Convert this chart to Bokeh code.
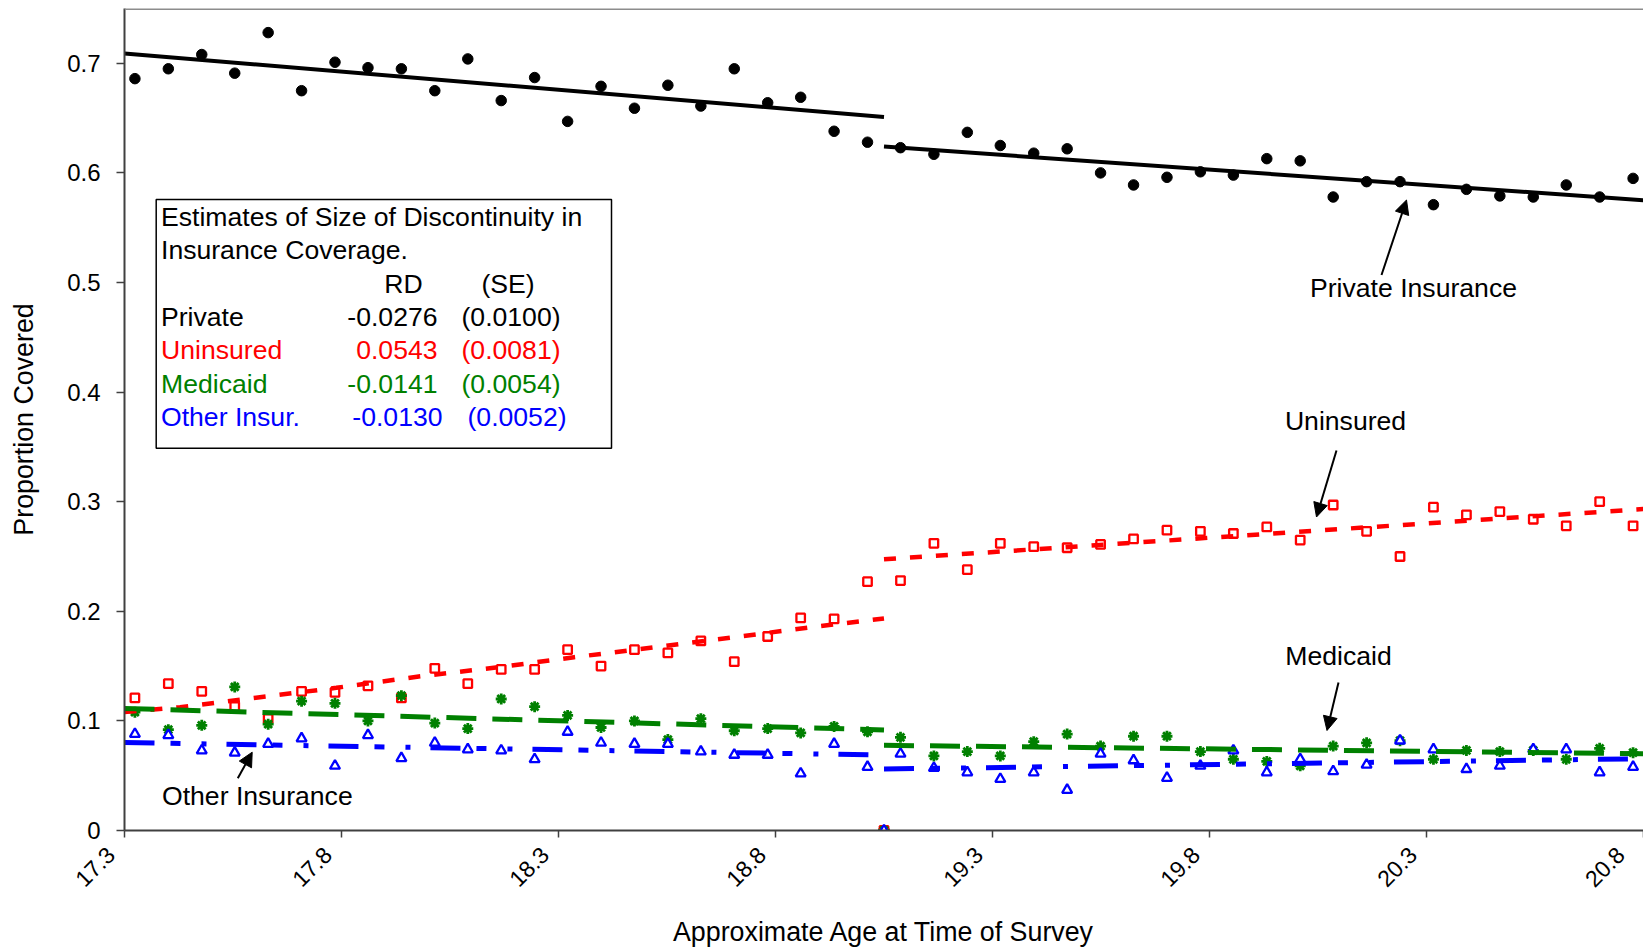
from bokeh.plotting import figure
from bokeh.models import (FixedTicker, CustomJSTickFormatter, Label, BoxAnnotation,
                          Arrow, NormalHead, Span, Range1d)
from bokeh.embed import file_html
from bokeh.resources import INLINE
from math import pi

# ---------------- data ----------------
age = [17.324, 17.401, 17.478, 17.554, 17.631, 17.708, 17.785, 17.861, 17.938, 18.015,
       18.091, 18.168, 18.245, 18.321, 18.398, 18.475, 18.552, 18.628, 18.705, 18.782,
       18.858, 18.935, 19.012,
       19.050,
       19.088, 19.165, 19.242, 19.318, 19.395, 19.472, 19.549, 19.625, 19.702, 19.779,
       19.855, 19.932, 20.009, 20.085, 20.162, 20.239, 20.316, 20.392, 20.469, 20.546,
       20.622, 20.699, 20.776]

private = [0.686, 0.695, 0.708, 0.691, 0.728, 0.675, 0.701, 0.696, 0.695, 0.675,
           0.704, 0.666, 0.687, 0.647, 0.679, 0.659, 0.680, 0.661, 0.695, 0.664,
           0.669, 0.638, 0.628,
           0.0,
           0.623, 0.617, 0.637, 0.625, 0.618, 0.622, 0.600, 0.589, 0.596, 0.601,
           0.598, 0.613, 0.611, 0.578, 0.592, 0.592, 0.571, 0.585, 0.579, 0.578,
           0.589, 0.578, 0.595]

uninsured = [0.121, 0.134, 0.127, 0.113, 0.102, 0.127, 0.126, 0.132, 0.121, 0.148,
             0.134, 0.147, 0.147, 0.165, 0.150, 0.165, 0.162, 0.173, 0.154, 0.177,
             0.194, 0.193, 0.227,
             0.0,
             0.228, 0.262, 0.238, 0.262, 0.259, 0.258, 0.261, 0.266, 0.274, 0.273,
             0.271, 0.277, 0.265, 0.297, 0.273, 0.250, 0.295, 0.288, 0.291, 0.284,
             0.278, 0.300, 0.278]

medicaid = [0.108, 0.092, 0.096, 0.131, 0.097, 0.118, 0.116, 0.100, 0.123, 0.098,
            0.093, 0.120, 0.113, 0.105, 0.094, 0.100, 0.083, 0.102, 0.091, 0.093,
            0.089, 0.095, 0.090,
            0.0,
            0.085, 0.068, 0.072, 0.068, 0.081, 0.088, 0.077, 0.086, 0.086, 0.072,
            0.065, 0.063, 0.059, 0.077, 0.080, 0.082, 0.065, 0.073, 0.072, 0.073,
            0.065, 0.075, 0.071]

other = [0.088, 0.087, 0.073, 0.071, 0.079, 0.084, 0.059, 0.087, 0.066, 0.080,
         0.074, 0.073, 0.065, 0.090, 0.080, 0.079, 0.079, 0.072, 0.069, 0.069,
         0.052, 0.079, 0.058,
         0.0,
         0.070, 0.057, 0.053, 0.047, 0.053, 0.037, 0.070, 0.064, 0.048, 0.059,
         0.073, 0.053, 0.065, 0.054, 0.060, 0.082, 0.074, 0.056, 0.059, 0.074,
         0.074, 0.053, 0.058]

# fitted regression lines (left / right of the cutoff)
fit_age_left = [17.3, 19.05]
fit_age_right = [19.05, 20.8]
private_fit_left = [0.709, 0.651]
private_fit_right = [0.624, 0.575]
uninsured_fit_age_left = [17.3, 17.428, 17.612, 17.788, 17.978, 18.162, 18.336, 18.521,
                          18.705, 18.883, 19.05]
uninsured_fit_left = [0.108, 0.1125, 0.1216, 0.1302, 0.1405, 0.149, 0.1581, 0.1672,
                      0.1764, 0.1855, 0.1935]
uninsured_fit_right = [0.2475, 0.2933]
medicaid_fit_left = [0.1113, 0.0917]
medicaid_fit_right = [0.0777, 0.0701]
other_fit_left = [0.0802, 0.0688]
other_fit_right = [0.0561, 0.0655]

x_ticks = [17.3, 17.8, 18.3, 18.8, 19.3, 19.8, 20.3, 20.8]
y_ticks = [0, 0.1, 0.2, 0.3, 0.4, 0.5, 0.6, 0.7]

table_title = ["Estimates of Size of Discontinuity in", "Insurance Coverage."]
table_head = ["RD", "(SE)"]
table_rows = ["Private", "Uninsured", "Medicaid", "Other Insur."]
table_rd = ["-0.0276", "0.0543", "-0.0141", "-0.0130"]
table_se = ["(0.0100)", "(0.0081)", "(0.0054)", "(0.0052)"]

RED = "#FF0000"
GREEN = "#008000"
BLUE = "#0000FF"
table_colors = ["black", RED, GREEN, BLUE]
FONT = "Liberation Sans"
TXT = "26.6px"

# ---------------- figure ----------------
X0, X1, Y0, Y1 = 17.3, 20.8, 0.0, 0.75
W, H = 1643, 951
FL, FT, FB = 124, 8, 830          # frame left / top / bottom in page pixels

p = figure(width=W, height=H, x_range=Range1d(X0, X1), y_range=Range1d(Y0, Y1),
           output_backend="svg", toolbar_location=None, title=None,
           min_border_left=FL, min_border_right=0, min_border_top=FT,
           min_border_bottom=H - FB)
p.outline_line_color = None
p.grid.visible = False
p.background_fill_color = "white"
p.border_fill_color = "white"


def X(px):
    return X0 + (px - FL) * (X1 - X0) / (W - FL)


def Y(py):
    return (FB - py) * (Y1 - Y0) / (FB - FT)


p.add_layout(Span(location=Y1, dimension="width", line_color="#8c8c8c", line_width=3))

# axes
for ax in (p.xaxis[0], p.yaxis[0]):
    ax.axis_line_color = "#404040"
    ax.axis_line_width = 2
    ax.major_tick_line_color = "#404040"
    ax.major_tick_line_width = 1.5
    ax.major_tick_in = 0
    ax.minor_tick_line_color = None
    ax.major_label_text_font = FONT
    ax.major_label_text_color = "black"
    ax.axis_label_text_font = FONT
    ax.axis_label_text_font_size = "26.8px"
    ax.axis_label_text_font_style = "normal"
    ax.axis_label_text_color = "black"

p.xaxis.ticker = FixedTicker(ticks=x_ticks)
p.xaxis.formatter = CustomJSTickFormatter(
    code="return tick.toFixed(1) + '\\u00a0\\u00a0\\u00a0'")
p.xaxis.major_label_orientation = pi / 4
p.xaxis.major_label_text_font_size = "23px"
p.xaxis.major_tick_out = 7
p.xaxis.major_label_standoff = 0
p.xaxis.axis_label = "Approximate Age at Time of Survey"
p.xaxis.axis_label_standoff = 13

p.yaxis.ticker = FixedTicker(ticks=y_ticks)
p.yaxis.formatter = CustomJSTickFormatter(code="return tick == 0 ? '0' : tick.toFixed(1)")
p.yaxis.major_label_text_font_size = "24px"
p.yaxis.major_tick_out = 8
p.yaxis.major_label_standoff = 16
p.yaxis.axis_label = "Proportion Covered"
p.yaxis.axis_label_standoff = 25

# ---------------- markers ----------------
p.scatter(age, private, marker="circle", size=10.5, fill_color="black", line_color="black")
p.scatter(age, uninsured, marker="square", size=8.5, fill_color="white",
          line_color=RED, line_width=2.3)
p.scatter(age, medicaid, marker="asterisk", size=11, line_color=GREEN, line_width=2.8)
p.scatter(age, other, marker="triangle", size=10, fill_color="white",
          line_color=BLUE, line_width=2.3)

# ---------------- fitted lines ----------------
p.line(fit_age_left, private_fit_left, line_color="black", line_width=4)
p.line(fit_age_right, private_fit_right, line_color="black", line_width=4)
p.line(uninsured_fit_age_left, uninsured_fit_left, line_color=RED, line_width=4.5,
       line_dash="12 14")
p.line(fit_age_right, uninsured_fit_right, line_color=RED, line_width=4.5, line_dash="12 14")
p.line(fit_age_left, medicaid_fit_left, line_color=GREEN, line_width=5, line_dash="30 16")
p.line(fit_age_right, medicaid_fit_right, line_color=GREEN, line_width=5, line_dash="30 16")
p.line(fit_age_left, other_fit_left, line_color=BLUE, line_width=5,
       line_dash="30 16 10 21 5 20")
p.line(fit_age_right, other_fit_right, line_color=BLUE, line_width=5,
       line_dash="30 16 10 21 5 20")

# ---------------- estimates box ----------------
p.add_layout(BoxAnnotation(left=X(155.7), right=X(611), top=Y(199), bottom=Y(447.7),
                           fill_color="white", fill_alpha=1.0,
                           line_color="black", line_width=1.5, line_alpha=1.0))


def lab(px, py, text, color="black", align="left", size=TXT):
    p.add_layout(Label(x=X(px), y=Y(py), text=text, text_color=color, text_font=FONT,
                       text_font_size=size, text_align=align,
                       text_baseline="alphabetic"))


lab(160.5, 216.5, table_title[0])
lab(160.5, 249.5, table_title[1])
lab(403, 283, table_head[0], align="center")
lab(507.5, 283, table_head[1], align="center")
row_base = [316.5, 349.8, 383, 416.3]
rd_right = [437, 437, 437, 442]
se_left = [461, 461, 461, 467]
for i in range(4):
    lab(160.5, row_base[i], table_rows[i], table_colors[i])
    lab(rd_right[i], row_base[i], table_rd[i], table_colors[i], align="right")
    lab(se_left[i], row_base[i], table_se[i], table_colors[i])

# ---------------- call-outs ----------------
lab(1413, 287, "Private Insurance", align="center")
lab(1345, 420.5, "Uninsured", align="center")
lab(1338, 655, "Medicaid", align="center")
lab(161.5, 795, "Other Insurance")


def arrow(x0, y0, x1, y1):
    p.add_layout(Arrow(end=NormalHead(size=14, fill_color="black", line_color="black",
                                      line_width=1),
                       x_start=X(x0), y_start=Y(y0), x_end=X(x1), y_end=Y(y1),
                       line_color="black", line_width=2))


arrow(1381, 274.5, 1406, 199.5)
arrow(1336, 450, 1316, 516.5)
arrow(1338, 682, 1326.5, 730)
arrow(237.3, 777.7, 251.7, 751.7)

open("out.html", "w").write(file_html(p, INLINE))
